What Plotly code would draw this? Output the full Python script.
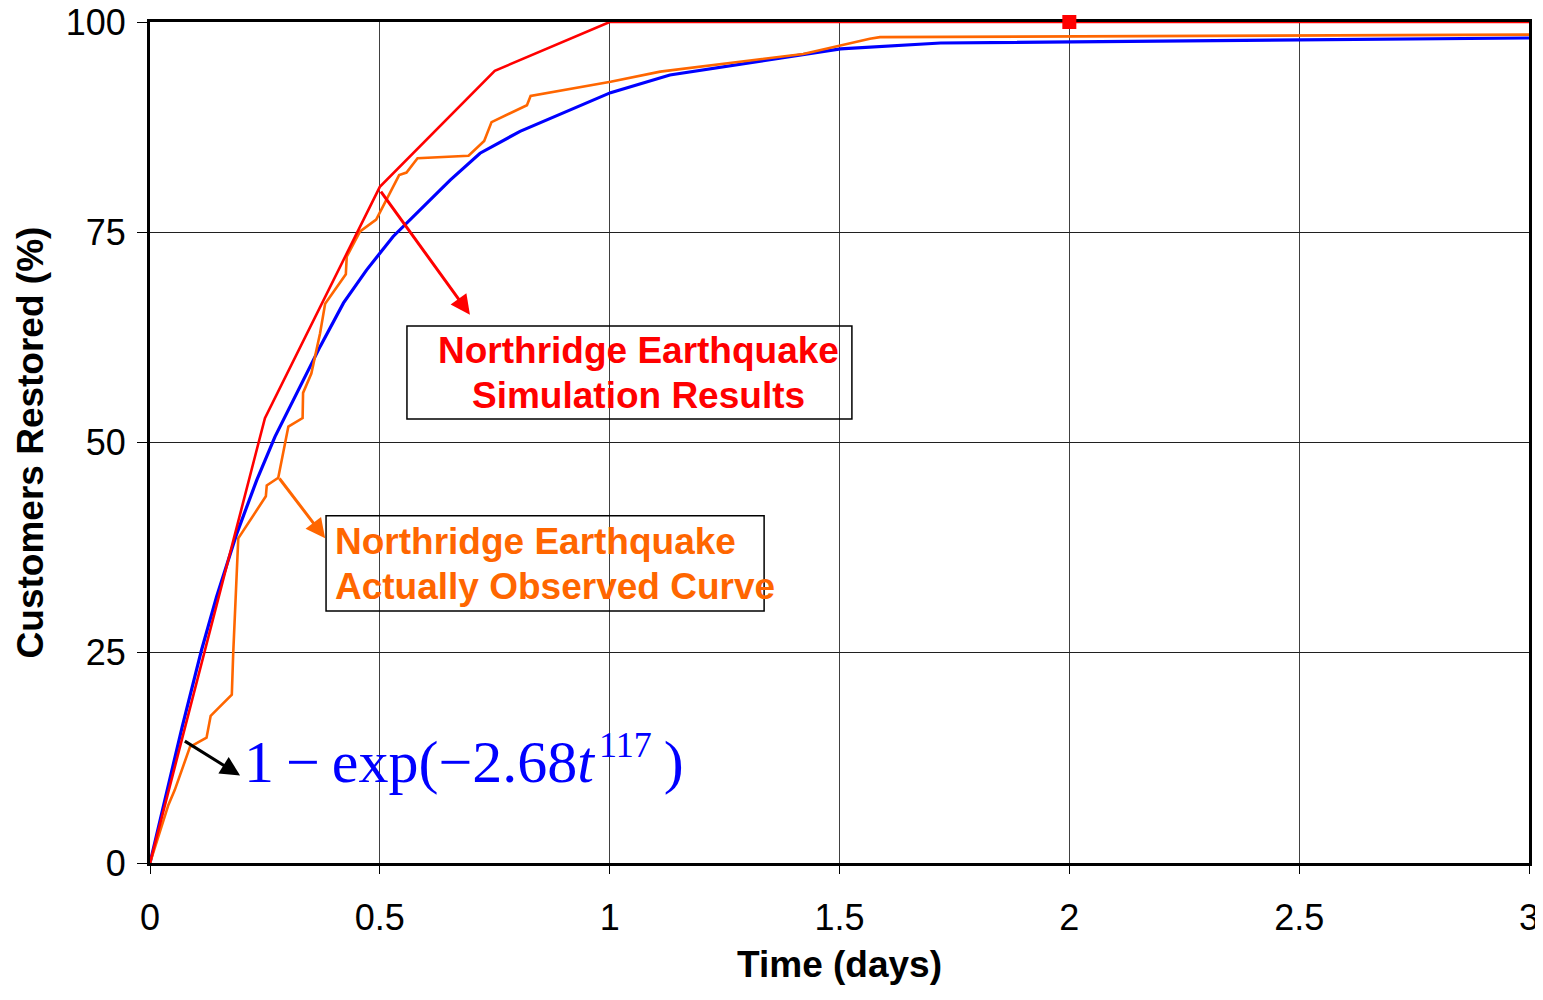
import plotly.graph_objects as go

# ---------------- data ----------------
sim_t = [0, 0.25, 0.5, 0.75, 1.0, 2.0, 3.0]
sim_y = [0, 52.9, 80.4, 94.2, 100, 100, 100]

obs_t = [0, 0.040, 0.054, 0.087, 0.123, 0.132, 0.152, 0.178, 0.181, 0.189, 0.192,
         0.252, 0.254, 0.279, 0.301, 0.332, 0.333, 0.351, 0.370, 0.381, 0.426,
         0.428, 0.457, 0.492, 0.526, 0.542, 0.558, 0.582, 0.693, 0.727, 0.743,
         0.820, 0.828, 1.002, 1.110, 1.421, 1.566, 1.588, 3.0]
obs_y = [0, 6.9, 8.7, 13.8, 14.9, 17.5, 18.6, 20.0, 24.9, 36.0, 38.6,
         43.6, 44.9, 45.8, 51.9, 52.9, 55.9, 58.2, 63.0, 66.5, 70.0,
         72.1, 75.1, 76.5, 80.0, 81.8, 82.1, 83.8, 84.1, 85.85, 88.1,
         90.1, 91.2, 92.9, 94.1, 96.2, 98.0, 98.2, 98.5]

fit_t = [0, 0.07, 0.112, 0.145, 0.189, 0.232, 0.272, 0.319, 0.370, 0.421, 0.471,
         0.529, 0.587, 0.653, 0.718, 0.805, 1.002, 1.131, 1.502, 1.72, 3.0]
fit_y = [0, 16.2, 25.3, 31.7, 39.2, 45.5, 50.7, 55.9, 61.4, 66.6, 70.5,
         74.5, 77.6, 81.2, 84.4, 87.0, 91.6, 93.7, 96.8, 97.5, 98.1]

marker_t = [2.0]
marker_y = [100]

x_ticks = [0, 0.5, 1, 1.5, 2, 2.5, 3]
x_tick_labels = ["0", "0.5", "1", "1.5", "2", "2.5", "3"]
y_ticks = [0, 25, 50, 75, 100]
y_tick_labels = ["0", "25", "50", "75", "100"]

RED = "#FF0000"
ORANGE = "#FF6600"
BLUE = "#0000FF"
SANS = "Liberation Sans, Arial, sans-serif"
SERIF = "Liberation Serif, Times New Roman, serif"

fig = go.Figure()
fig.add_trace(go.Scatter(x=fit_t, y=fit_y, mode="lines",
                         line=dict(color=BLUE, width=3.2), showlegend=False))
fig.add_trace(go.Scatter(x=obs_t, y=obs_y, mode="lines",
                         line=dict(color=ORANGE, width=2.6), showlegend=False))
fig.add_trace(go.Scatter(x=sim_t, y=sim_y, mode="lines",
                         line=dict(color=RED, width=2.6), showlegend=False))
fig.add_trace(go.Scatter(x=marker_t, y=marker_y, mode="markers",
                         marker=dict(color=RED, symbol="square", size=14),
                         cliponaxis=False, showlegend=False))

# boxes
fig.add_shape(type="rect", x0=0.559, x1=1.527, y0=52.8, y1=63.85,
              line=dict(color="black", width=1.5), fillcolor="rgba(0,0,0,0)")
fig.add_shape(type="rect", x0=0.383, x1=1.336, y0=29.96, y1=41.3,
              line=dict(color="black", width=1.5), fillcolor="rgba(0,0,0,0)")

ann = []
# red text
ann.append(dict(x=1.062, y=60.9, text="Northridge Earthquake", showarrow=False,
                xanchor="center", yanchor="middle",
                font=dict(family=SANS, size=37, color=RED, weight="bold")))
ann.append(dict(x=1.062, y=55.55, text="Simulation Results", showarrow=False,
                xanchor="center", yanchor="middle",
                font=dict(family=SANS, size=37, color=RED, weight="bold")))
# orange text
ann.append(dict(x=0.398, y=38.17, text="Northridge Earthquake", showarrow=False,
                xanchor="left", yanchor="middle",
                font=dict(family=SANS, size=37, color=ORANGE, weight="bold")))
ann.append(dict(x=0.398, y=32.9, text="Actually Observed Curve", showarrow=False,
                xanchor="left", yanchor="middle",
                font=dict(family=SANS, size=37, color=ORANGE, weight="bold")))
# formula
ann.append(dict(x=0.200, y=12.3,
                text="1\u2009\u2212\u2009exp(\u22122.68<i>t</i>\u200a<sup><span style='font-size:36px'>117</span></sup>\u2009)",
                showarrow=False, xanchor="left", yanchor="middle",
                font=dict(family=SERIF, size=60, color=BLUE)))
# arrows
ann.append(dict(x=0.696, y=65.2, ax=0.5, ay=80.0, axref="x", ayref="y", text="",
                showarrow=True, arrowhead=2, arrowsize=1.3, arrowwidth=3, arrowcolor=RED))
ann.append(dict(x=0.381, y=38.6, ax=0.279, ay=45.9, axref="x", ayref="y", text="",
                showarrow=True, arrowhead=2, arrowsize=1.3, arrowwidth=3, arrowcolor=ORANGE))
ann.append(dict(x=0.196, y=10.4, ax=0.0725, ay=14.6, axref="x", ayref="y", text="",
                showarrow=True, arrowhead=2, arrowsize=1.3, arrowwidth=3, arrowcolor="black"))

fig.update_layout(
    width=1535, height=984,
    margin=dict(l=142, r=14, t=14, b=129),
    paper_bgcolor="white", plot_bgcolor="white",
    font=dict(family=SANS, color="black"),
    annotations=ann,
    showlegend=False,
)
fig.update_xaxes(
    range=[0, 3], tickvals=x_ticks, ticktext=x_tick_labels, automargin=False,
    ticklabeloverflow="allow",
    showgrid=True, gridcolor="#404040", gridwidth=1,
    showline=True, mirror=True, linecolor="black", linewidth=3,
    ticks="outside", ticklen=8, tickcolor="black", tickwidth=1,
    ticklabelstandoff=13,
    tickfont=dict(family=SANS, size=36, color="black"),
    zeroline=False, layer="below traces",
    title=dict(text="Time (days)", standoff=14,
               font=dict(family=SANS, size=37, color="black", weight="bold")),
)
fig.update_yaxes(
    range=[0, 100], tickvals=y_ticks, ticktext=y_tick_labels, automargin=False,
    ticklabeloverflow="allow",
    showgrid=True, gridcolor="#202020", gridwidth=1,
    showline=True, mirror=True, linecolor="black", linewidth=3,
    ticks="outside", ticklen=10, tickcolor="black", tickwidth=1,
    ticklabelstandoff=4,
    tickfont=dict(family=SANS, size=36, color="black"),
    zeroline=False, layer="below traces",
    title=dict(text="Customers Restored (%)", standoff=11,
               font=dict(family=SANS, size=37, color="black", weight="bold")),
)

fig.write_html("out.html")
